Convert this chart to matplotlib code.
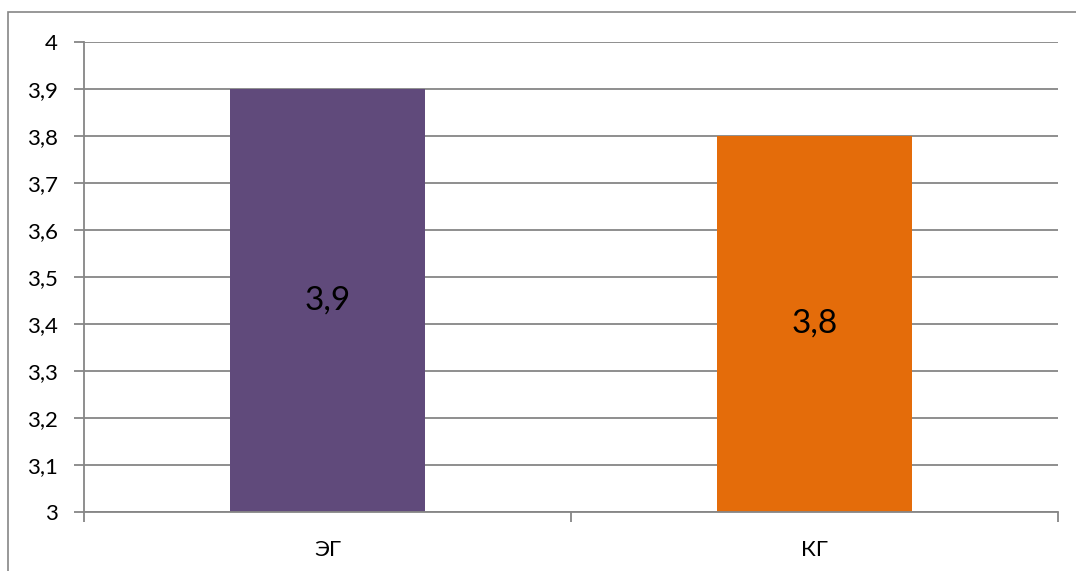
import matplotlib.pyplot as plt
from matplotlib.patches import Rectangle
from matplotlib.ticker import MultipleLocator, FuncFormatter

plt.rcParams['font.family'] = ['Lato', 'DejaVu Sans']

groups = ["ЭГ", "КГ"]
values = [3.9, 3.8]
colors = ["#604A7B", "#E46C0A"]

fig = plt.figure(figsize=(10.76, 5.71), dpi=100)
ax = fig.add_axes([0.0781, 0.1033, 0.9052, 0.8231])

# outer frame of the chart area (runs off the right and bottom edges)
fig.patches.append(Rectangle((8 / 1076, -0.05), 1.05, 1.05 - 12.5 / 571,
                             transform=fig.transFigure, fill=False,
                             edgecolor="#868686", linewidth=1.2))

x = range(len(groups))
bars = ax.bar(x, [v - 3 for v in values], bottom=3, width=0.4, color=colors, zorder=2)

for i, v in enumerate(values):
    ax.text(i, 3 + (v - 3) / 2, f"{v}".replace(".", ","), ha="center", va="center",
            fontsize=24, color="black", zorder=3)

ax.set_ylim(3, 4)
ax.set_xlim(-0.5, 1.5)
ax.yaxis.set_major_locator(MultipleLocator(0.1))
ax.yaxis.set_major_formatter(FuncFormatter(lambda v, p: f"{v:.1f}".rstrip("0").rstrip(".").replace(".", ",")))
ax.grid(axis="y", color="#868686", linewidth=1.3, zorder=1)
ax.set_axisbelow(True)

ax.set_xticks([-0.5, 0.5, 1.5])
ax.set_xticklabels([])
ax.set_xticks([0, 1], minor=True)
ax.set_xticklabels(groups, minor=True)
ax.tick_params(axis="x", which="minor", length=0, pad=20, labelsize=16)
ax.tick_params(axis="x", which="major", length=7, width=1.3, color="#868686")
ax.tick_params(axis="y", length=7, width=1.3, color="#868686", labelsize=16, pad=12)

for s in ["top", "right"]:
    ax.spines[s].set_visible(False)
for s in ["left", "bottom"]:
    ax.spines[s].set_color("#868686")
    ax.spines[s].set_linewidth(1.3)

fig.savefig("out.png", dpi=100)
